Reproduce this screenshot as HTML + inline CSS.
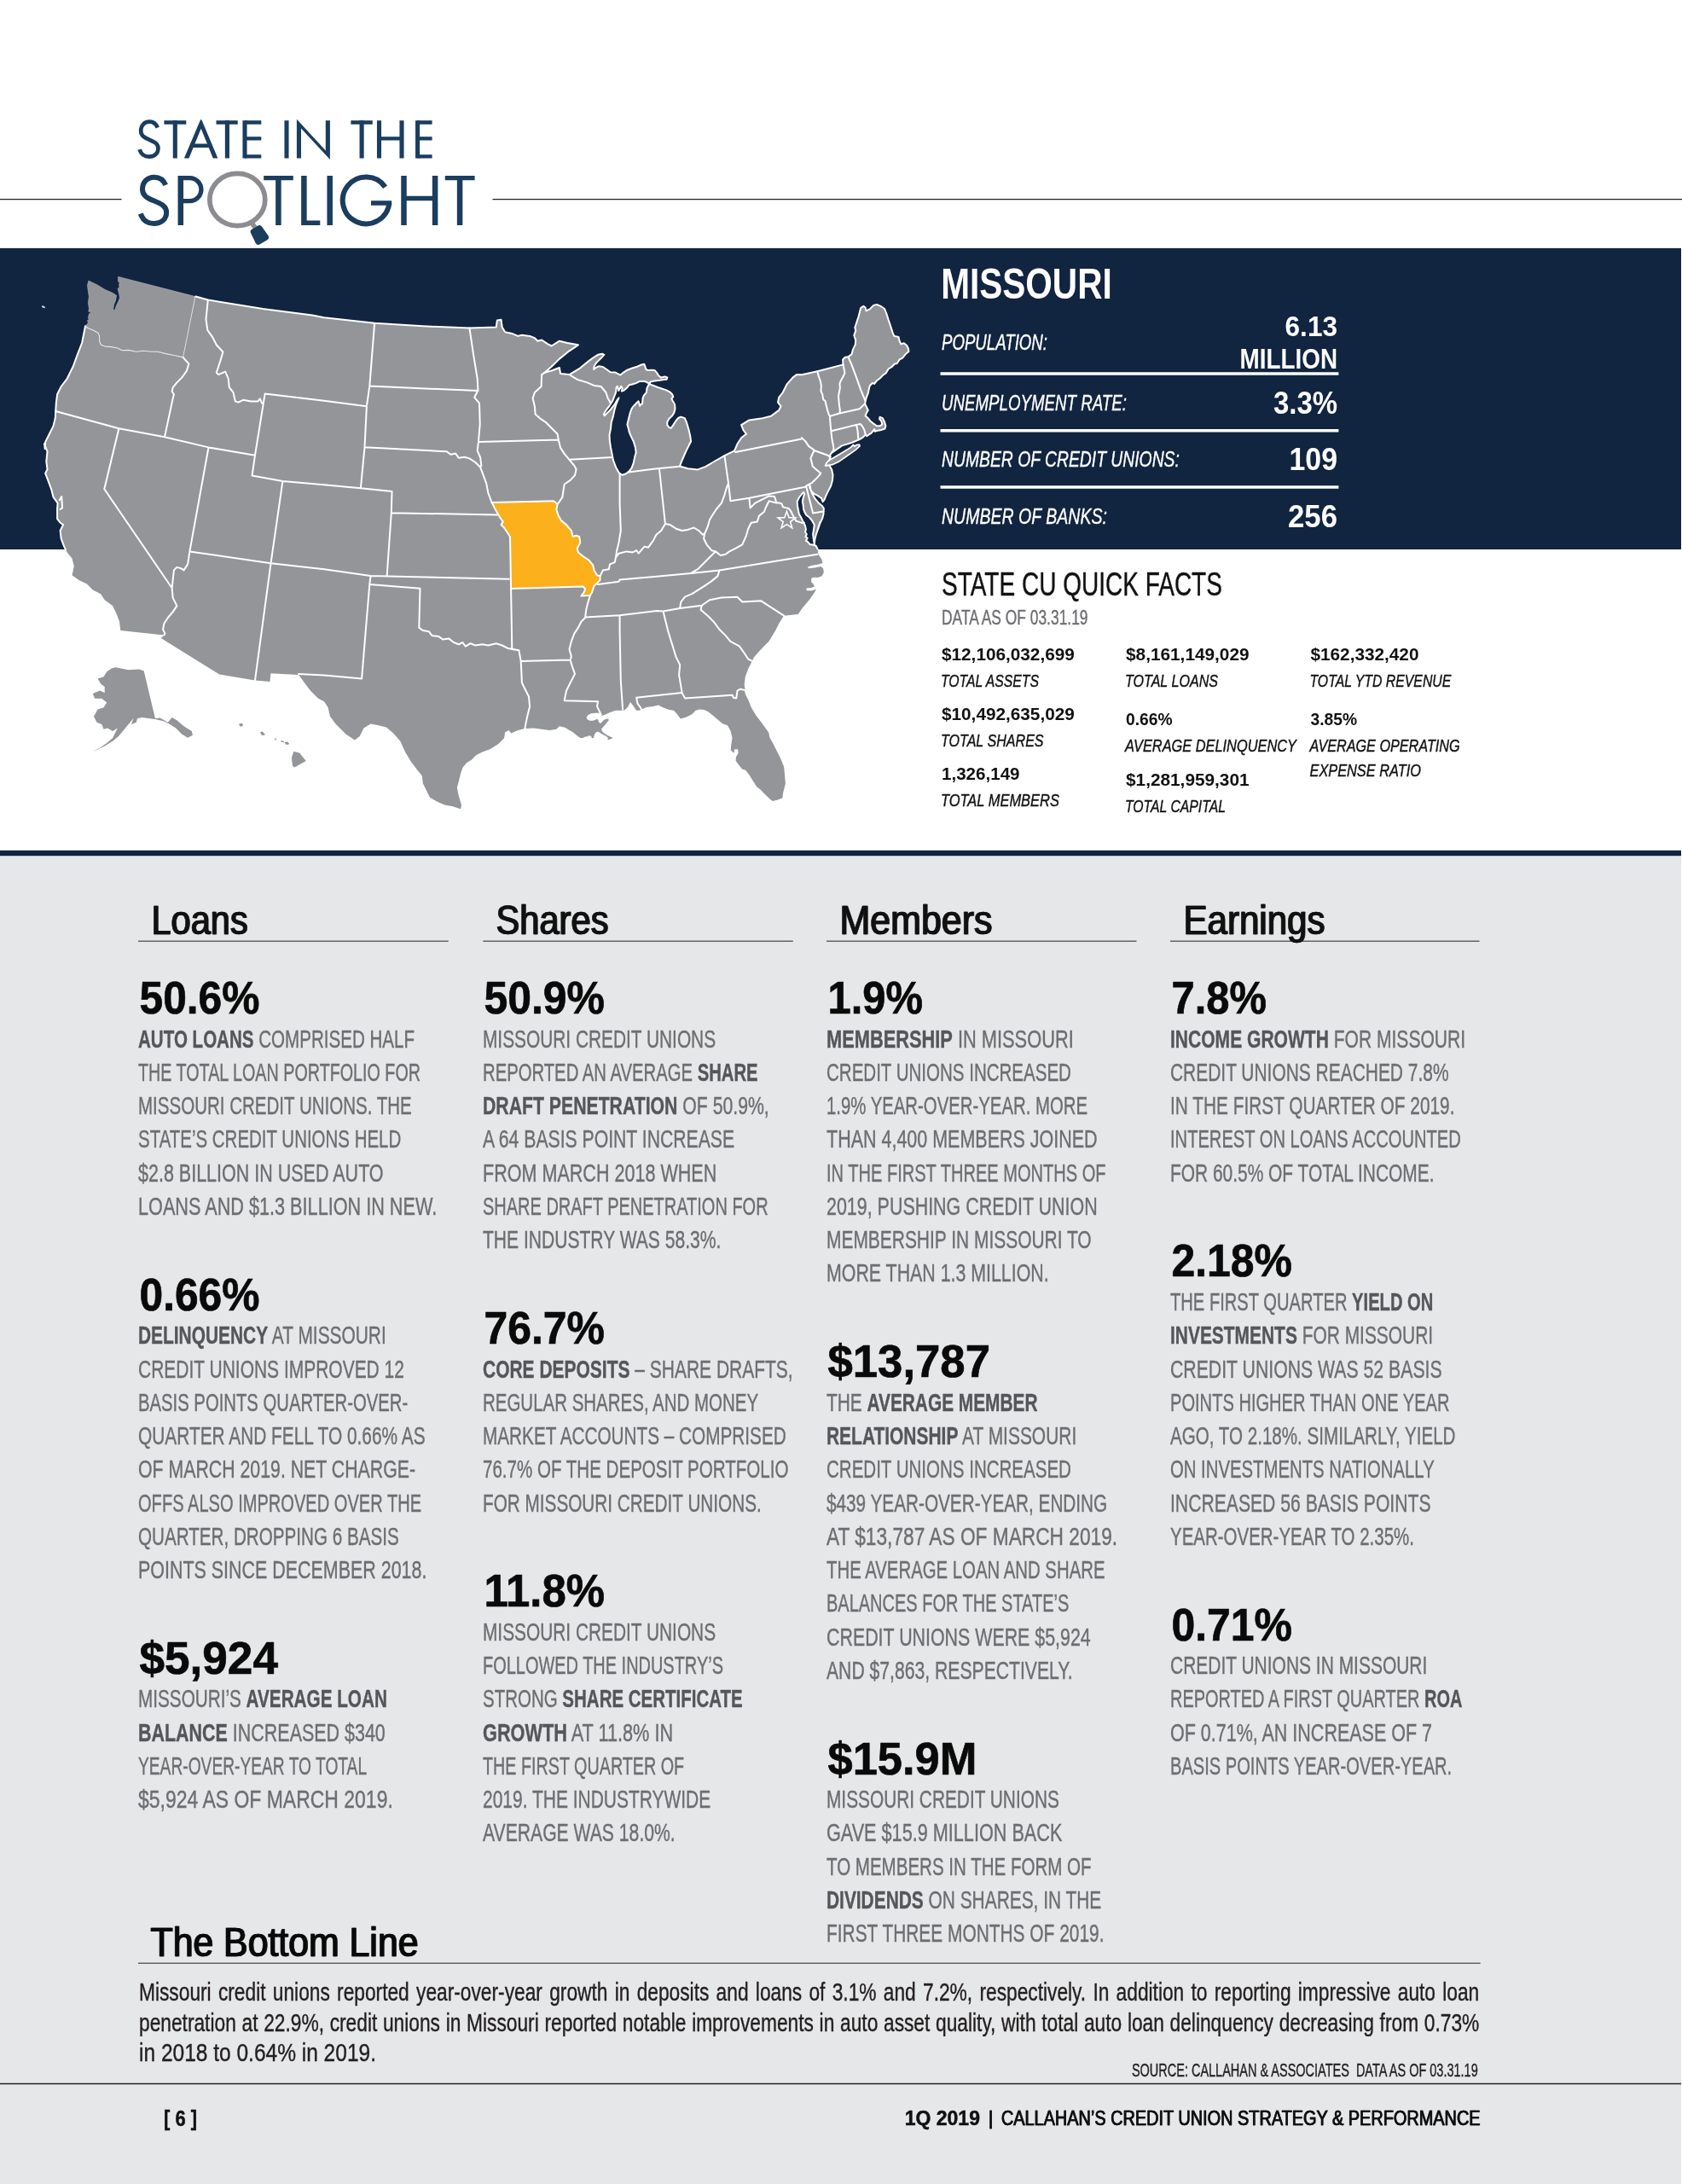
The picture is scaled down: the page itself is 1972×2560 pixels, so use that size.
<!DOCTYPE html>
<html><head><meta charset="utf-8"><title>State in the Spotlight - Missouri</title>
<style>
html,body{margin:0;padding:0;background:#fff;}
body{width:1972px;height:2560px;overflow:hidden;position:relative;font-family:"Liberation Sans",sans-serif;}
svg{position:absolute;left:0;top:0;display:block;}
text{font-family:"Liberation Sans",sans-serif;white-space:pre;}
</style></head><body>
<svg width="1972" height="2560" viewBox="0 0 1972 2560">
<rect x="0" y="0" width="1972" height="2560" fill="#fff"/>
<rect x="0" y="290.9" width="1971" height="353.1" fill="#112440"/>
<rect x="0" y="1000" width="1971" height="1560" fill="#e6e7e8"/>
<rect x="0" y="996.8" width="1971" height="6.4" fill="#112440"/>
<g id="title">
<path d="M215.9 185.6L235.1 140.15L236.29999999999998 140.15L255.4 185.6H249.8L235.7 150.85L221.5 185.6Z" fill="#1b3d5e"/>
<path d="M347.9 185.6V139.85L381.8 176.4V141.35H386.9V187.1L353.0 150.54999999999998V185.6Z" fill="#1b3d5e"/>
<path d="M192.4 143.54999999999998H218.3 M223.3 170.7H248.2 M253.5 143.54999999999998H278.7 M287.0 143.54999999999998H306.3M287.0 162.4H306.3M287.0 183.4H306.3 M411.4 143.54999999999998H436.8 M444.5 162.4H471.0 M489.6 143.54999999999998H506.6M489.6 162.4H506.6M489.6 183.4H506.6" fill="none" stroke="#1b3d5e" stroke-width="4.4" stroke-linejoin="miter" stroke-miterlimit="10"/>
<path d="M184.78 149.67 C182.78 144.75 179.21 142.70 175.20 142.70 C169.18 142.70 165.16 147.21 165.16 153.36 C165.16 159.10 169.18 161.15 174.75 163.61 C181.44 166.48 185.45 168.53 185.45 173.86 C185.45 180.01 180.99 183.70 174.75 183.70 C169.62 183.70 165.38 180.83 163.60 175.09" fill="none" stroke="#1b3d5e" stroke-width="4.7" stroke-linejoin="miter" stroke-miterlimit="10"/>
<path d="M205.3 141.35V185.6 M266.4 141.35V185.6 M287.0 141.35V185.6 M336.0 141.35V185.6 M424.1 141.35V185.6 M444.5 141.35V185.6M471.0 141.35V185.6 M489.6 141.35V185.6" fill="none" stroke="#1b3d5e" stroke-width="5.1"/>
<path d="M211.8 208.70000000000002H222.4A13.50 13.50 0 0 1 222.4 235.7H211.8 M309.2 208.70000000000002H343.8 M356.4 261.25H375.3 M435 238H459.12 M473.5 232.5H510.1 M521.8 208.70000000000002H556.6" fill="none" stroke="#1b3d5e" stroke-width="5.3" stroke-linejoin="miter" stroke-miterlimit="10"/>
<path d="M194.20 216.88 C191.42 210.37 186.48 207.65 180.92 207.65 C172.57 207.65 167.01 213.62 167.01 221.77 C167.01 229.37 172.57 232.09 180.30 235.34 C189.57 239.14 195.13 241.86 195.13 248.92 C195.13 257.06 188.95 261.95 180.30 261.95 C173.19 261.95 167.32 258.15 164.85 250.55 M451.64 219.18A27.4 27.4 0 1 0 456.42 238" fill="none" stroke="#1b3d5e" stroke-width="6.0" stroke-linejoin="miter" stroke-miterlimit="10"/>
<path d="M211.8 206.05V263.9 M326.4 206.05V263.9 M356.4 206.05V263.9 M386.7 206.05V263.9 M473.5 206.05V263.9M510.1 206.05V263.9 M539.1 206.05V263.9" fill="none" stroke="#1b3d5e" stroke-width="6.5"/>
<ellipse cx="278.3" cy="234" rx="32.45" ry="30.55" fill="none" stroke="#8c8d90" stroke-width="5.7"/>
<path d="M294.5 260.5L299 266.5" stroke="#8c8d90" stroke-width="5.5" fill="none"/>
<g transform="translate(303.9 275.2) rotate(-31)"><path d="M-7.4 -6.5Q-7.4 -10 -3.5 -10H3.5Q7.4 -10 7.6 -6.5L8.6 6Q8.8 10 4.5 10H-4.5Q-8.8 10 -8.6 6Z" fill="#1b3d5e"/></g>
<path d="M0 233.6H142.5M577.5 233.6H1972" stroke="#231f20" stroke-width="1.4" fill="none"/>
</g>
<g id="map">
<g stroke-linejoin="round" stroke-linecap="round">
<path d="M229.4 347.5 L243.8 351.5 L308.2 362.1 L366.2 369.6 L380 372.3 L439.1 378.8 L495.9 382.3 L550.4 384.6 L581.7 383.5 L582.9 375.4 L587.5 374.7 L588.7 383.5 L592.2 389.3 L600.3 390.9 L607.2 393.9 L611.9 392.7 L621.1 393.9 L626.9 396.2 L630.4 399.7 L635.1 398.5 L642 403.2 L646.6 405.5 L655.9 399.7 L665.2 402 L677.9 404.3 L667.5 411.3 L655.9 420.6 L646.6 429.8 L638.5 436.8 L646.6 434.5 L655.9 431 L657.1 438 L667.5 439.1 L679.1 432.2 L690 423.4 L695.9 419 L701 415.8 L706.1 414.7 L708.3 415.8 L704.7 419.8 L699.5 424.9 L696.6 429.3 L696.2 433 L698.8 430.8 L701.7 429.3 L706.8 430 L711.2 433 L715.6 436.3 L721.5 436.6 L727.4 439.6 L731 436.6 L735.4 433.7 L741.3 431.5 L747.1 429.7 L752.3 427.5 L755.2 426.7 L756.3 429.3 L757.4 433 L760.3 434.1 L764 433.7 L767.7 434.1 L769.9 436.6 L772.1 440.3 L775 442.5 L779.4 441.4 L782.3 442.5 L781.6 444.7 L777.9 445.1 L773.5 445.8 L769.1 446.2 L764.7 446.9 L762.2 448 L761.8 450.5 L766.2 452 L770.6 453.8 L776.4 455.7 L780.8 457.1 L785.2 459.3 L788.2 462.3 L789.3 465.2 L787.4 467.4 L788.9 470.3 L791.1 474 L791.5 479.1 L790.4 483.5 L788.2 487.2 L784.5 490.8 L782.3 494.5 L782.3 498.2 L784.5 501.1 L786.7 501.8 L788.9 498.9 L792.6 493 L795.5 489.7 L798.4 488.6 L802.8 490.1 L805 495.2 L807.2 502.6 L809 509.9 L810.1 517.2 L807.2 523.1 L804.3 528.9 L801.4 535.5 L799.2 540.7 L797 546.5 L806.5 549.3 L818.1 550.4 L827.4 546.9 L839 540 L849.4 534.2 L861 528.4 L864.5 520.3 L869.1 513.3 L874.9 508.7 L871.4 504 L869.1 498.2 L878.4 492.4 L892.3 490.6 L903.9 487.8 L913.2 480.9 L915.5 476.2 L912 471.6 L913.2 465.8 L917.8 460 L922.4 450.7 L929.4 442.6 L934 439.1 L940 439.3 L958.3 435.2 L988.5 427.4 L988.1 421.5 L990.8 418.7 L994.5 418.3 L998.6 415.1 L1000 409.6 L1002.7 404.1 L1003.2 398.6 L1001.3 393.1 L1003.2 387.6 L1002.3 384 L1004.1 378.5 L1006.8 370.2 L1009.1 361.1 L1012.3 358.8 L1014.6 360.6 L1015.5 364.3 L1019.7 362.4 L1024.2 357.9 L1027.9 356.9 L1032.5 358.8 L1037.1 362 L1039.3 367.5 L1041.6 374.8 L1044.4 383 L1046.7 390.4 L1048.5 394 L1053.5 394.9 L1054.5 399.5 L1056.3 403.2 L1059.9 402.3 L1063.2 405 L1065 408.7 L1065.4 411.9 L1061.8 415.1 L1058.1 419.7 L1054.5 421.5 L1051.7 426.1 L1049 426.5 L1045.3 430.2 L1041.6 432.5 L1038.9 437.1 L1035.2 439.8 L1031.6 443.5 L1027.9 446.2 L1025.2 449.9 L1022.9 449 L1019.7 452.2 L1018.7 456.3 L1017.8 460.9 L1016 465.4 L1014.6 470 L1014.2 473.7 L1016 477.3 L1017.8 481 L1016 483.8 L1014.6 487.4 L1017.8 490.2 L1020.6 493.8 L1024.2 496.6 L1027.9 499.3 L1031.6 499.3 L1034.3 497.5 L1033.4 493.8 L1031.1 491.1 L1031.6 488.8 L1034.8 490.2 L1037.1 494.7 L1038.4 499.3 L1037.5 502.5 L1033.4 503.9 L1028.8 504.8 L1025.6 505.7 L1025.2 503 L1023.8 504.8 L1021.5 507.6 L1018.3 509.8 L1016 511.2 L1014.6 509.4 L1012.3 512.1 L1009.6 514 L1005.9 515.8 L999.5 518.5 L993.1 520.6 L987.1 522.4 L982.1 525.9 L977.5 529.1 L974.7 530.9 L973.1 533.7 L973.7 535.9 L973.3 535.6 L972.3 539.2 L969.6 542.9 L968.2 545.6 L972.3 545.6 L975.1 550.2 L976.5 556.6 L976 563 L974.2 569.5 L971.4 574.9 L968.7 580.4 L966.4 585.9 L964.6 588.2 L963.2 584.1 L958.6 580.9 L954 578.6 L950.8 574.9 L949.2 571.3 L949.9 570.2 L950.5 574 L952.2 578.6 L955.3 584.1 L959.7 589.4 L963.8 592.9 L965.9 596 L965.5 600.6 L965.5 602.4 L964.1 607.9 L961.4 613.4 L959.5 618.9 L957.2 625.3 L955.4 631.7 L954.8 637.7 L954.5 636.3 L953.8 631.7 L953.1 626.2 L954 620.7 L954.8 615.2 L952 610.2 L949 606.5 L945.3 603.8 L943.5 600.6 L942.1 596.9 L941.7 592.3 L940.9 587.8 L941.8 583.2 L943.2 578.6 L941.9 577 L939.8 579.5 L936.9 583.2 L934.6 587.8 L935 593.3 L935.9 597.8 L936.8 602.4 L939.4 607 L941.7 611.6 L944 616.2 L944.9 620.7 L944 623.5 L945.8 626.2 L944.4 629 L946.7 630.8 L944.9 633.6 L947.6 635.6 L949.5 638.1 L954.9 639 L956.8 640 L958.6 643.6 L959.5 650 L963.2 655.5 L964.6 660.1 L959.5 661.5 L951.3 662.9 L946.7 664.7 L948.1 666.3 L954.9 665.6 L962.3 664 L965.2 666.5 L965.8 671.1 L963.6 675.2 L958.6 677.1 L954 676.8 L951.3 677.7 L951.1 682.1 L953.6 684.8 L954.9 687.6 L951.3 689 L945.3 689.4 L945.8 692.2 L951.3 692.6 L957.2 690.5 L954 695.8 L949.5 702.2 L944.9 707.7 L940.3 713.2 L935.7 720 L919 721.7 L913.2 731 L908.5 740.3 L901.6 751.6 L892.3 760.9 L884.2 770.1 L881.9 774.8 L877.2 784.1 L873.8 793.3 L872.6 802.6 L873.8 809.1 L872.8 807.8 L873.7 813.2 L877.2 820.3 L880.8 829.2 L886.1 838.2 L891.5 845.3 L896.8 852.4 L901.3 858.7 L902.2 864 L906.6 872 L911.1 881 L915.6 889.9 L919.1 898.8 L920 907.7 L920.9 918.4 L918.2 929.1 L917.3 935.4 L911.1 937.7 L905.8 938.9 L903.1 937.1 L896.8 930.9 L891.5 925.6 L887 922 L882.6 914.9 L878.1 907.7 L873.7 902.4 L870.1 901.5 L866.5 897 L862.6 891.7 L862.9 887.2 L865.6 882.7 L865.1 878.3 L861.2 878.3 L860.3 882.7 L856.7 879.2 L857.2 873.8 L858.5 864.9 L856.7 856.9 L853.1 850.6 L846.9 848 L841.5 843.5 L836.2 839 L830.8 834.6 L825.5 831.9 L820.1 831.4 L815.7 832.8 L811.2 837.3 L804.1 840.8 L797.8 842.6 L793.4 836.4 L789.8 832.8 L784.5 831.9 L777.3 829.2 L772 826.6 L764.9 828.3 L757.7 828.9 L751.5 831.9 L748.8 832.8 L746.1 832.8 L742.6 827.5 L739 823 L736.3 828.3 L732.7 831.9 L731 832.8 L731 832.8 L721.8 832.8 L714.7 835.2 L709.9 837.6 L705.7 839 L702.8 835.7 L697.1 835.7 L693.3 836.2 L689.5 838.1 L687.6 840.9 L688.5 843.3 L691.4 844.7 L695.2 844.7 L698.1 843.8 L700 842.8 L701.4 843.8 L701.9 846.2 L703.8 848.1 L705.7 846.6 L707.6 844.3 L710.4 842.8 L713.3 842.4 L713.7 844.3 L711.8 846.6 L709.5 849.5 L707.1 852.3 L705.2 854.2 L705.7 857.1 L708.5 859.5 L712.3 861.9 L716.1 863.8 L718.5 864.7 L717.1 865.7 L713.7 867.1 L712.3 866.6 L712.8 864.7 L710.4 862.8 L706.6 860.9 L702.8 858.5 L700.4 857.6 L698.1 859 L696.6 861.9 L696.1 864.7 L694.2 865.2 L692.8 862.8 L690.4 862.3 L688.5 863.3 L685.7 863.8 L682.8 865.2 L680 864.7 L677.1 862.8 L674.3 860.4 L671.4 858.1 L667.6 856.1 L664.8 854.2 L662.4 852.8 L660 852.3 L655.9 851.3 L652.4 854.8 L644.3 855.9 L635.1 854.8 L625.8 853.6 L615.3 854.1 L607.2 855.9 L599.1 859.4 L596.8 855.9 L592.2 858.3 L591 865.2 L584 872.2 L574.8 878 L565.5 881.4 L558.5 884.9 L552.7 890.7 L546.9 894.2 L542.3 900 L540 906.9 L537.7 916.2 L535.8 923.2 L537.7 932.4 L541.1 944 L540 948.2 L530.7 945.2 L521.4 943.6 L512.2 939.4 L504 934.8 L500.6 927.8 L495.9 918.5 L494.8 909.3 L489 902.3 L482 893 L475.1 881.4 L469.3 868.7 L461.2 859.4 L453 852.5 L442.6 850.1 L434.5 848.5 L426.4 853.6 L421.7 862.9 L415.9 867.5 L405.5 860.6 L393.9 849 L387 839.7 L384.6 829.3 L380 822.3 L373.2 818.8 L363.9 809.6 L356.9 800.3 L351.1 792.2 L349.5 791 L317.5 789.2 L316.4 799.1 L299 797.5 L257.2 790.5 L188.8 748.1 L192.3 744.4 L141.3 739.1 L140.1 728.7 L136.7 719.4 L132 710.1 L122.7 703.2 L118.1 696.2 L108.8 691.6 L101.9 684.6 L92.6 680 L84.5 674.2 L86.8 663.8 L84.5 654.5 L78.7 647.5 L75.2 640.6 L71.7 631.3 L70.6 622 L74.1 615.1 L70.6 612.7 L67.1 608.1 L67.1 596.5 L67.6 589.6 L62.5 582.6 L60.1 573.3 L56.7 564.1 L53.2 554.8 L55.5 550.1 L54.3 540.9 L55.5 529.3 L52 520 L52.7 526.1 L53.2 518 L57.8 508.7 L62.5 499.4 L64.8 490.1 L65.2 482 L65.9 471.6 L67.1 462.3 L71.7 453 L78.7 443.8 L85.6 429.8 L90.7 415.9 L96.1 402 L100 382.3 L103.3 378.5 L102.4 375.6 L104.3 374.7 L103.3 372.8 L104.3 368 L107.1 366.1 L103.8 365.2 L104.3 361.4 L103.3 354.7 L104.3 348 L103.3 341.4 L102.4 334.7 L103.8 329 L113.8 333.8 L123.3 339.5 L131.9 343.3 L135.7 345.7 L136.6 346.1 L135.7 351.9 L133.8 356.6 L132.8 361.4 L133.3 364.2 L134.7 362.8 L136.6 357.6 L139 352.8 L140.4 349 L139.5 344.2 L138 338.5 L139.9 336.6 L139.5 332.8 L140.4 331.4 L138.5 330 L138.5 324.3Z" fill="#939598"/>
<path d="M100 382.3 L103.3 378.5 L102.4 375.6 L104.3 374.7 L103.3 372.8 L104.3 368 L107.1 366.1 L103.8 365.2 L104.3 361.4 L103.3 354.7 L104.3 348 L103.3 341.4 L102.4 334.7 L103.8 329 L113.8 333.8 L123.3 339.5 L131.9 343.3 L135.7 345.7 L136.6 346.1 L135.7 351.9 L133.8 356.6 L132.8 361.4 L133.3 364.2 L134.7 362.8 L136.6 357.6 L139 352.8 L140.4 349 L139.5 344.2 L138 338.5 L139.9 336.6 L139.5 332.8 L140.4 331.4 L138.5 330 L138.5 324.3 L228.9 347.6" fill="none" stroke="#b9babc" stroke-width="0.5"/>
<clipPath id="navyclip"><rect x="0" y="280" width="1972" height="364.5"/></clipPath>
<path d="M229.4 347.5 L243.8 351.5 L308.2 362.1 L366.2 369.6 L380 372.3 L439.1 378.8 L495.9 382.3 L550.4 384.6 L581.7 383.5 L582.9 375.4 L587.5 374.7 L588.7 383.5 L592.2 389.3 L600.3 390.9 L607.2 393.9 L611.9 392.7 L621.1 393.9 L626.9 396.2 L630.4 399.7 L635.1 398.5 L642 403.2 L646.6 405.5 L655.9 399.7 L665.2 402 L677.9 404.3 L667.5 411.3 L655.9 420.6 L646.6 429.8 L638.5 436.8 L646.6 434.5 L655.9 431 L657.1 438 L667.5 439.1 L679.1 432.2 L690 423.4 L695.9 419 L701 415.8 L706.1 414.7 L708.3 415.8 L704.7 419.8 L699.5 424.9 L696.6 429.3 L696.2 433 L698.8 430.8 L701.7 429.3 L706.8 430 L711.2 433 L715.6 436.3 L721.5 436.6 L727.4 439.6 L731 436.6 L735.4 433.7 L741.3 431.5 L747.1 429.7 L752.3 427.5 L755.2 426.7 L756.3 429.3 L757.4 433 L760.3 434.1 L764 433.7 L767.7 434.1 L769.9 436.6 L772.1 440.3 L775 442.5 L779.4 441.4 L782.3 442.5 L781.6 444.7 L777.9 445.1 L773.5 445.8 L769.1 446.2 L764.7 446.9 L762.2 448 L761.8 450.5 L766.2 452 L770.6 453.8 L776.4 455.7 L780.8 457.1 L785.2 459.3 L788.2 462.3 L789.3 465.2 L787.4 467.4 L788.9 470.3 L791.1 474 L791.5 479.1 L790.4 483.5 L788.2 487.2 L784.5 490.8 L782.3 494.5 L782.3 498.2 L784.5 501.1 L786.7 501.8 L788.9 498.9 L792.6 493 L795.5 489.7 L798.4 488.6 L802.8 490.1 L805 495.2 L807.2 502.6 L809 509.9 L810.1 517.2 L807.2 523.1 L804.3 528.9 L801.4 535.5 L799.2 540.7 L797 546.5 L806.5 549.3 L818.1 550.4 L827.4 546.9 L839 540 L849.4 534.2 L861 528.4 L864.5 520.3 L869.1 513.3 L874.9 508.7 L871.4 504 L869.1 498.2 L878.4 492.4 L892.3 490.6 L903.9 487.8 L913.2 480.9 L915.5 476.2 L912 471.6 L913.2 465.8 L917.8 460 L922.4 450.7 L929.4 442.6 L934 439.1 L940 439.3 L958.3 435.2 L988.5 427.4 L988.1 421.5 L990.8 418.7 L994.5 418.3 L998.6 415.1 L1000 409.6 L1002.7 404.1 L1003.2 398.6 L1001.3 393.1 L1003.2 387.6 L1002.3 384 L1004.1 378.5 L1006.8 370.2 L1009.1 361.1 L1012.3 358.8 L1014.6 360.6 L1015.5 364.3 L1019.7 362.4 L1024.2 357.9 L1027.9 356.9 L1032.5 358.8 L1037.1 362 L1039.3 367.5 L1041.6 374.8 L1044.4 383 L1046.7 390.4 L1048.5 394 L1053.5 394.9 L1054.5 399.5 L1056.3 403.2 L1059.9 402.3 L1063.2 405 L1065 408.7 L1065.4 411.9 L1061.8 415.1 L1058.1 419.7 L1054.5 421.5 L1051.7 426.1 L1049 426.5 L1045.3 430.2 L1041.6 432.5 L1038.9 437.1 L1035.2 439.8 L1031.6 443.5 L1027.9 446.2 L1025.2 449.9 L1022.9 449 L1019.7 452.2 L1018.7 456.3 L1017.8 460.9 L1016 465.4 L1014.6 470 L1014.2 473.7 L1016 477.3 L1017.8 481 L1016 483.8 L1014.6 487.4 L1017.8 490.2 L1020.6 493.8 L1024.2 496.6 L1027.9 499.3 L1031.6 499.3 L1034.3 497.5 L1033.4 493.8 L1031.1 491.1 L1031.6 488.8 L1034.8 490.2 L1037.1 494.7 L1038.4 499.3 L1037.5 502.5 L1033.4 503.9 L1028.8 504.8 L1025.6 505.7 L1025.2 503 L1023.8 504.8 L1021.5 507.6 L1018.3 509.8 L1016 511.2 L1014.6 509.4 L1012.3 512.1 L1009.6 514 L1005.9 515.8 L999.5 518.5 L993.1 520.6 L987.1 522.4 L982.1 525.9 L977.5 529.1 L974.7 530.9 L973.1 533.7 L973.7 535.9 L973.3 535.6 L972.3 539.2 L969.6 542.9 L968.2 545.6 L972.3 545.6 L975.1 550.2 L976.5 556.6 L976 563 L974.2 569.5 L971.4 574.9 L968.7 580.4 L966.4 585.9 L964.6 588.2 L963.2 584.1 L958.6 580.9 L954 578.6 L950.8 574.9 L949.2 571.3 L949.9 570.2 L950.5 574 L952.2 578.6 L955.3 584.1 L959.7 589.4 L963.8 592.9 L965.9 596 L965.5 600.6 L965.5 602.4 L964.1 607.9 L961.4 613.4 L959.5 618.9 L957.2 625.3 L955.4 631.7 L954.8 637.7 L954.5 636.3 L953.8 631.7 L953.1 626.2 L954 620.7 L954.8 615.2 L952 610.2 L949 606.5 L945.3 603.8 L943.5 600.6 L942.1 596.9 L941.7 592.3 L940.9 587.8 L941.8 583.2 L943.2 578.6 L941.9 577 L939.8 579.5 L936.9 583.2 L934.6 587.8 L935 593.3 L935.9 597.8 L936.8 602.4 L939.4 607 L941.7 611.6 L944 616.2 L944.9 620.7 L944 623.5 L945.8 626.2 L944.4 629 L946.7 630.8 L944.9 633.6 L947.6 635.6 L949.5 638.1 L954.9 639 L956.8 640 L958.6 643.6 L959.5 650 L963.2 655.5 L964.6 660.1 L959.5 661.5 L951.3 662.9 L946.7 664.7 L948.1 666.3 L954.9 665.6 L962.3 664 L965.2 666.5 L965.8 671.1 L963.6 675.2 L958.6 677.1 L954 676.8 L951.3 677.7 L951.1 682.1 L953.6 684.8 L954.9 687.6 L951.3 689 L945.3 689.4 L945.8 692.2 L951.3 692.6 L957.2 690.5 L954 695.8 L949.5 702.2 L944.9 707.7 L940.3 713.2 L935.7 720 L919 721.7 L913.2 731 L908.5 740.3 L901.6 751.6 L892.3 760.9 L884.2 770.1 L881.9 774.8 L877.2 784.1 L873.8 793.3 L872.6 802.6 L873.8 809.1 L872.8 807.8 L873.7 813.2 L877.2 820.3 L880.8 829.2 L886.1 838.2 L891.5 845.3 L896.8 852.4 L901.3 858.7 L902.2 864 L906.6 872 L911.1 881 L915.6 889.9 L919.1 898.8 L920 907.7 L920.9 918.4 L918.2 929.1 L917.3 935.4 L911.1 937.7 L905.8 938.9 L903.1 937.1 L896.8 930.9 L891.5 925.6 L887 922 L882.6 914.9 L878.1 907.7 L873.7 902.4 L870.1 901.5 L866.5 897 L862.6 891.7 L862.9 887.2 L865.6 882.7 L865.1 878.3 L861.2 878.3 L860.3 882.7 L856.7 879.2 L857.2 873.8 L858.5 864.9 L856.7 856.9 L853.1 850.6 L846.9 848 L841.5 843.5 L836.2 839 L830.8 834.6 L825.5 831.9 L820.1 831.4 L815.7 832.8 L811.2 837.3 L804.1 840.8 L797.8 842.6 L793.4 836.4 L789.8 832.8 L784.5 831.9 L777.3 829.2 L772 826.6 L764.9 828.3 L757.7 828.9 L751.5 831.9 L748.8 832.8 L746.1 832.8 L742.6 827.5 L739 823 L736.3 828.3 L732.7 831.9 L731 832.8 L731 832.8 L721.8 832.8 L714.7 835.2 L709.9 837.6 L705.7 839 L702.8 835.7 L697.1 835.7 L693.3 836.2 L689.5 838.1 L687.6 840.9 L688.5 843.3 L691.4 844.7 L695.2 844.7 L698.1 843.8 L700 842.8 L701.4 843.8 L701.9 846.2 L703.8 848.1 L705.7 846.6 L707.6 844.3 L710.4 842.8 L713.3 842.4 L713.7 844.3 L711.8 846.6 L709.5 849.5 L707.1 852.3 L705.2 854.2 L705.7 857.1 L708.5 859.5 L712.3 861.9 L716.1 863.8 L718.5 864.7 L717.1 865.7 L713.7 867.1 L712.3 866.6 L712.8 864.7 L710.4 862.8 L706.6 860.9 L702.8 858.5 L700.4 857.6 L698.1 859 L696.6 861.9 L696.1 864.7 L694.2 865.2 L692.8 862.8 L690.4 862.3 L688.5 863.3 L685.7 863.8 L682.8 865.2 L680 864.7 L677.1 862.8 L674.3 860.4 L671.4 858.1 L667.6 856.1 L664.8 854.2 L662.4 852.8 L660 852.3 L655.9 851.3 L652.4 854.8 L644.3 855.9 L635.1 854.8 L625.8 853.6 L615.3 854.1 L607.2 855.9 L599.1 859.4 L596.8 855.9 L592.2 858.3 L591 865.2 L584 872.2 L574.8 878 L565.5 881.4 L558.5 884.9 L552.7 890.7 L546.9 894.2 L542.3 900 L540 906.9 L537.7 916.2 L535.8 923.2 L537.7 932.4 L541.1 944 L540 948.2 L530.7 945.2 L521.4 943.6 L512.2 939.4 L504 934.8 L500.6 927.8 L495.9 918.5 L494.8 909.3 L489 902.3 L482 893 L475.1 881.4 L469.3 868.7 L461.2 859.4 L453 852.5 L442.6 850.1 L434.5 848.5 L426.4 853.6 L421.7 862.9 L415.9 867.5 L405.5 860.6 L393.9 849 L387 839.7 L384.6 829.3 L380 822.3 L373.2 818.8 L363.9 809.6 L356.9 800.3 L351.1 792.2 L349.5 791 L317.5 789.2 L316.4 799.1 L299 797.5 L257.2 790.5 L188.8 748.1 L192.3 744.4 L141.3 739.1 L140.1 728.7 L136.7 719.4 L132 710.1 L122.7 703.2 L118.1 696.2 L108.8 691.6 L101.9 684.6 L92.6 680 L84.5 674.2 L86.8 663.8 L84.5 654.5 L78.7 647.5 L75.2 640.6 L71.7 631.3 L70.6 622 L74.1 615.1 L70.6 612.7 L67.1 608.1 L67.1 596.5 L67.6 589.6 L62.5 582.6 L60.1 573.3 L56.7 564.1 L53.2 554.8 L55.5 550.1 L54.3 540.9 L55.5 529.3 L52 520 L52.7 526.1 L53.2 518 L57.8 508.7 L62.5 499.4 L64.8 490.1 L65.2 482 L65.9 471.6 L67.1 462.3 L71.7 453 L78.7 443.8 L85.6 429.8 L90.7 415.9 L96.1 402 L100 382.3" fill="none" stroke="#fff" stroke-width="2.0" clip-path="url(#navyclip)"/>
<path d="M975.7 537.6 L983.8 532.8 L993.3 527.1 L997.6 524.3 L1000.4 521.4 L1001.9 523.3 L1004 521.5 L1007.6 521.2 L1008 522.8 L1002.8 527.6 L993.3 534.2 L983.8 540.9 L975.7 544.7 L967.6 545.9 L969.5 541.9 L974.3 538Z" fill="#939598" stroke="#fff" stroke-width="1.7"/>
<path d="M761.1 449.8 L758.5 454.9 L757.8 460.1 L754.8 463.7 L753.6 466.7 L753 473.3 L751.4 474 L750.2 475.8 L748.6 470.3 L746.4 472.2 L742.7 476.2 L740.5 479.1 L738.7 484.2 L736.9 491.6 L735.4 497.4 L736.9 502.6 L737.6 506.2 L739.8 511.4 L742.7 517.2 L744.9 524.5 L745.7 530.4 L744.2 535.5 L742.7 542.9 L740.5 548.7 L737.6 552.4 L734 555.3 L729.6 556.8 L725.9 554.6 L722.2 548 L718.9 539.2 L717.5 531.9 L716 524.5 L714.9 517.2 L714.5 509.9 L716 502.6 L716.7 495.2 L718.9 487.9 L720.4 480.6 L722.6 473.3 L725.5 466.3 L723.8 468.5 L720.9 473.6 L715.8 480.2 L711.4 484.6 L708.8 487.3 L707.8 485.6 L710.4 481.2 L714.8 475.3 L718.4 469.5 L720.6 463.6 L722.2 459.3 L722.6 454.2 L723.6 452.7 L724.6 454.6 L725.2 457.9 L726.6 455.7 L728.1 452.7 L729.6 454.9 L728.8 458.6 L731 457.9 L735.4 454.2 L737.6 451.3 L741.3 450.5 L745.7 449.1 L750.1 446.9 L755.9 446.9 L760.3 449.1Z" fill="#112440" stroke="#fff" stroke-width="2.0"/>
<path d="M214.6 418.9 L221.3 426.4 L219 434.5 L213.2 442.6 L207.4 448.4 L202.7 454.2 L201.6 458.8 L203.9 462.3 L202.7 466.9 L193 512.2 M65.2 482 L139.4 502.2 L193 512.2 L244.5 524.4 L299 533.7 M243.8 351.5 L241.5 374.2 L243.3 387 L249.1 395.1 L253.8 404.3 L261.4 412.5 L258.4 422.9 L256.1 429.8 L253.8 436.8 L256.1 439.1 L264.2 435.6 L267.7 443.8 L268.8 454.2 L273.5 460 L275.8 470.4 L279.3 471.6 L285.1 468.8 L294.3 470.4 L302.4 470.4 L304.8 467.4 L307.1 472.7 M310.6 461.6 L299 533.7 L295.5 557.6 M310.6 461.6 L380 469.7 L429.9 476.2 M295.5 557.6 L331.4 564.1 L380 568.2 L422.9 572.2 M439.1 378.8 L433.3 452.6 L429.9 476.2 L427.5 524.4 L422.9 572.2 M433.3 452.6 L560.4 458.1 M427.5 524.2 L523.8 529.3 L528.4 532.8 L534.2 531.6 L537.7 536.7 L544.6 535.8 L550.4 537.4 L557.4 542 L563.2 547.8 M550.4 384.6 L552.7 399.7 L555.1 415.9 L557.4 429.8 L559.7 443.8 L560.4 457.7 L556.2 465.8 L562 472.7 L562.7 497.1 L560.9 518 L559.7 528.4 L563.2 536.5 L564.3 545.8 L563.2 547.8 L566.7 557.1 L570.1 566.4 L572.4 578 L576.6 589.1 M560.9 518 L654.8 515.6 M638.5 436.8 L635.1 439.1 L634.6 453 L626.9 460 L624.6 466.9 L626.9 476.2 L627.6 485.5 L632.7 490.1 L639.7 494.8 L646.6 501.7 L653.6 508.7 L654.8 515.6 M654.8 515.6 L657.1 524.9 L661.7 531.9 L667.5 538.8 L673.3 545.8 L675.6 550.1 L674 557.1 L668.7 562.9 L661.7 567.5 L660.6 574.5 L659.4 582.6 L654.3 590.3 M667.5 538.8 L718.1 536 M667.5 439.1 L676.8 444.9 L688.4 448.4 L696.5 451.9 L704.6 453 L710.4 460 L712.7 466.9 L716.2 472.7 M726.6 554.8 L726.6 589.6 L727.8 622 L725.5 635.9 L723.2 645.2 L722 653.3 M737 553.4 L772.9 549 L797.2 546.7 M772.9 549 L779.9 613.9 M703.5 675.4 L706.9 668.4 L713.9 667.2 L715 661.4 L720.8 659.1 L722 653.3 L725.5 648.7 L734.8 646.4 L741.7 647.5 L746.3 645.2 L748.7 648.7 L755.5 640.6 L760.1 641.7 L765.9 633.6 L769.4 626.7 L775.2 622 L779.9 613.9 L785.6 615.1 L792.6 619.7 L799.6 622 L806.5 620.9 L813.5 618.5 L819.3 622 L823.9 626.7 L826.2 625.5 L829.7 617.4 L832 609.3 L835.5 603.5 L840.1 596.5 L845.9 589.6 L849.4 580.3 L851.7 572.2 L854 566.4 M849.4 533.9 L854 566.4 M854 566.4 L856.4 587.2 L878.4 583.8 L944 570.8 M861 528.4 L862.2 530 L939.8 514.5 M940 513.1 L944.6 517.6 L948.2 523.1 L953.7 526.8 L954.5 528.2 L952.2 532.8 L950.4 537.4 L951.7 542 L952.7 546.6 L956.8 550.2 L962.3 554.8 L958.6 559.4 L954.9 563 L952.2 565.8 L948.5 567.6 L945.8 569.5 L944 570.8 M954 527.8 L970.5 533.7 L973.3 535.6 M878.4 583.8 L879.6 595.4 L885.4 589.6 L892.3 586.1 L901.6 581.4 L908.1 582.1 L910.4 589.6 M910.4 589.6 L901.6 587.2 L898.1 594.2 L895.8 600 L890 604.6 L887.7 611.6 L880.7 612.7 L877.2 619.7 L874.9 627.8 L870.3 638.3 L862.2 642.9 L855.2 646.4 L850.6 649.8 L844.8 651 L839 646.4 L834.3 645.2 L828.5 638.3 L825.1 631.3 L826.2 625.5 M910.4 589.6 L914.2 589.6 L916.5 590.5 L917.9 594.2 L921.1 595.1 L924.7 596 L927 598.8 L930.2 605.2 L933.4 610.7 L936.6 611.6 L940.3 612.9 L942.9 612.7 M839 646.4 L832 653.3 L825.1 660.3 L818.1 667.2 L810 671.9 M701.1 685.1 L725.5 681.8 L726.6 679.5 L769.9 675.8 L810 671.9 L843.6 668.4 L958.4 649.8 M843.6 668.4 L841.3 675.4 L834.3 681.1 L827.4 685.8 L820.4 690.4 L811.2 696.2 L803 699.7 L798.4 705.5 L797.2 712.4 M686.1 723.6 L726.6 721.3 L769.9 715.9 L777.5 716.6 L797.2 712.9 L822.7 709.7 M822.7 709.7 L832 703.2 L845.9 700.4 L864.5 699.7 L870.3 705.5 L892.3 704.3 L919 721.7 M822.7 710.1 L821.6 714.8 L829.7 721.7 L836.7 728.7 L843.6 738 L850.6 744.9 L856.4 751.9 L866.8 757.4 L872.6 765.5 L877.2 772.5 L881.9 774.8 M777.5 716.6 L783.3 740 L792.6 770.1 L797.2 779.4 L796.1 791 L798.4 804.9 L799.6 811.9 M799.6 811.9 L803 818.4 L858.7 814.7 L859.8 817.7 L863.3 818.4 L864.5 809.6 L868 807.7 L873.8 809.1 M752 831.6 L750.9 829.3 L747.4 824.6 L746.2 817.7 L799.6 811.9 M726.6 721.3 L726.6 740 L727.8 798 L730.1 831.6 M691.9 698.1 L689.5 705.5 L687.2 714.8 L686.1 724 L681.4 728.7 L677.9 735.6 L673.3 742.6 L669.8 751.9 L667.5 761.1 L669.8 769.3 L668.7 773.9 L671 781.7 L674 789.9 L668.7 800.3 L664 809.6 L661.7 821.2 L701.1 822.3 L700 828.1 L703.5 835.1 L704.6 837.4 M610.7 775.1 L668.7 773.4 M599.1 690 L600.3 761.1 L608.4 762.3 L610.7 775.1 L610.7 774.8 L611.9 800.3 L615.3 807.2 L620 816.5 L621.1 828.1 L617.7 842 L615.3 854.1 M317.5 660.3 L380 667.2 L434.5 674.9 L596.8 678.8 M434.5 674.9 L433.3 685.1 L428.7 740 L424.1 795.6 M350 789.9 L380 791.5 L424.1 795.6 M433.3 685.1 L492.5 689.7 L491.3 735.6 L495.9 739.1 L502.9 740.3 L506.4 744.9 L514.5 746.1 L519.1 749.5 L526.1 748.4 L531.9 753 L537.7 755.3 L542.3 753 L545.8 757.7 L551.6 754.2 L557.4 756.5 L565.5 755.3 L572.4 756.5 L581.7 754.2 L588.7 756.5 L595.6 760 L601.4 761.1 L608.4 762.3 M458.8 601.2 L453.7 674 M422.9 572.2 L459.5 576.1 L458.8 601.2 M458.8 601.2 L583.1 603.5 M139.4 502.2 L122.3 573.3 L201.6 689.3 M222.4 646.4 L220.1 661.4 L215.5 668.4 L212 666.1 L207.4 664.9 L203.9 668.4 L201.6 689.3 L202.7 700.9 L207.4 710.1 L202.7 717.1 L196.9 724 L192.3 731 L191.1 738 L193.5 742.6 L192.3 744.4 M244.5 524.4 L222.4 646.4 M222.4 646.4 L317.5 660.3 M331.4 564.1 L317.5 660.3 M317.5 660.3 L299 797.5 M958.3 435.2 L959.7 440.7 L962 447.1 L962.9 452.6 L962.4 458.1 L964.3 462.7 L965.2 468.2 L967.5 470 L968.8 475.5 L970.2 481 L971.6 485.6 L973 487.9 M988.5 427.4 L989.4 431.6 L990.4 437.1 L988.5 441.6 L985.8 446.2 L984.4 449.9 L984.9 454.5 L984 459 L983 464.5 L983.5 470 L984 475.5 L984.9 481 L984.4 484.5 M994.5 418.3 L998.6 427.9 L1004.1 442.6 L1009.6 458.1 L1014.6 470 M973 487.9 L984.4 484.5 L1007.8 479.2 L1013.3 473.9 L1014.2 473.7 M973 487.9 L973.4 495.7 L974.3 504.8 L975.3 514 L977.1 523.1 L977.5 526.8 L975.2 530.5 M974.3 505.3 L985.8 502.5 L1004.1 497.9 L1008.7 497 M1004.1 497.9 L1005.5 504.8 L1005.9 510.3 L1006.4 515.3 M1008.7 497 L1011.4 500.2 L1013.3 503.9 L1014.6 508.5 M944 570.8 L945.3 569.5 L947.6 568.1 L950.1 569.9 M945.3 570.8 L953.1 601.5 L965.5 599.5 M69.9 586.1 L72.2 582.1 L73.1 595.4 L70.6 597" fill="none" stroke="#fff" stroke-width="2.0"/>
<path d="M100 382.3 L102.4 384.2 L109 387.1 L114.7 389.9 L116.6 393.7 L116.6 400.4 L118.5 404.2 L123.3 406.1 L130.9 406.6 L137.6 408 L143.3 410.8 L150.9 410.4 L159.4 412.3 L168 411.3 L178.5 412.3 L185.1 412.3 L194.6 414.6 L204.1 416.5 L214.6 418.9" fill="none" stroke="#e9e9ea" stroke-width="1.1"/>
<path d="M228.9 347.6 L214.6 418.9 M960.9 611.6 L958.6 618.9 L956.3 628.1 L955.2 635.8" fill="none" stroke="#f1f1f2" stroke-width="0.8"/>
<path d="M576.6 589.1 L649 587.2 L653.6 590.7 L652.4 597.7 L654.8 604.6 L658.2 610.4 L664 615.1 L669.8 622 L671.7 629 L675.6 627.8 L679.1 629 L680.3 635.9 L676.8 642.9 L677.9 647.5 L683.7 652.2 L690.7 656.8 L695.3 662.6 L696.5 668.4 L700 674.2 L703.5 675.4 L703.5 680 L700 683.5 L696.5 686.9 L694.2 693.9 L691.9 698.1 L681.4 698.5 L684.9 693.9 L686.1 690.4 L683.7 687.4 L599.1 690 L598 629 L593.3 622 L591 618.5 L587.5 615.1 L589.8 611.6 L586.4 607 L581.7 598.8Z" fill="#fbb01c" stroke="#fff" stroke-width="2.0"/>
<path d="M922.4 599.4 L925 606.6 L932.7 606.9 L926.6 611.6 L928.7 618.9 L922.4 614.6 L916.1 618.9 L918.2 611.6 L912.1 606.9 L919.8 606.6Z" fill="#939598" stroke="#fff" stroke-width="1.6" stroke-linejoin="miter"/>
<path d="M135.5 782.2 L150.6 785.2 L163.3 784.5 L168.7 786.4 L181.9 842 L187.7 841.6 L196.9 846.7 L201.6 840.9 L207.4 844.3 L215.5 851.3 L224.8 857.1 L225.9 861.7 L220.1 864.7 L213.2 860.6 L206.2 853.6 L199.3 849 L192.3 845.5 L183 843.2 L173.8 842 L166.8 840.9 L161 842 L159.8 846.7 L154 849 L156.4 842 L150.6 849 L144.8 855.9 L139 862.9 L132 868.7 L122.7 874.5 L113.5 879.1 L108.8 880.7 L117 876.8 L125.1 871 L132 865.2 L135.5 858.3 L137.8 853.6 L132 857.1 L126.2 853.6 L121.6 854.8 L119.3 849 L113.5 846.7 L110 839.7 L114.6 831.6 L121.6 829.3 L125.1 823.5 L119.3 818.8 L111.2 818.8 L108.8 813 L117 809.6 L122.7 811.9 L122.7 804.9 L118.1 801.4 L114.6 795.6 L121.6 793.3 L125.1 787.5 L130.9 783.6Z" fill="#939598"/>
<path d="M280 848.5 L283.9 847.8 L285.1 850.8 L281.6 851.8Z" fill="#939598"/>
<path d="M304.8 858.7 L307.8 857.3 L311 861.5 L307.1 862Z" fill="#939598"/>
<path d="M321.7 865.4 L324.5 865.9 L324 867.3 L321.9 866.8Z" fill="#939598"/>
<path d="M329.1 868 L333.3 868.9 L332.4 870.3 L329.3 869.4Z" fill="#939598"/>
<path d="M333.3 869.8 L337.2 869.4 L339.5 872.2 L335.6 873.1Z" fill="#939598"/>
<path d="M344.2 880.7 L351.1 882.6 L358.8 891.9 L352.3 895.4 L345.3 899.5 L343 897.7 L341.9 888.4Z" fill="#939598"/>
<ellipse cx="50.9" cy="359.8" rx="2.2" ry="1.1" transform="rotate(25 50.9 359.8)" fill="#d8d9da"/>
</g>
</g>
<g id="rules">
<path d="M1102.5 438H1569.4M1102.5 504.8H1569.4M1102.5 571H1569.4" stroke="#fff" stroke-width="3.4" fill="none"/>
<path d="M162 1103.3H525.7M566.3 1103.3H929.8M969 1103.3H1332.5M1372 1103.3H1734.5" stroke="#636466" stroke-width="1.6" fill="none"/>
<path d="M162 2301.2H1735.6" stroke="#636466" stroke-width="1.6" fill="none"/>
<path d="M0 2442.6H1971" stroke="#231f20" stroke-width="1.5" fill="none"/>
</g>
<g id="text" opacity="0.999">
<text id="t0" transform="translate(1103.2 350.4) scale(0.8209 1)" font-size="49.4" font-weight="bold" fill="#fff">MISSOURI</text>
<text id="t1" stroke="#fff" stroke-width="0.4" transform="translate(1104 409.5) scale(0.7037 1)" font-size="26.5" font-style="italic" fill="#fff">POPULATION:</text>
<text id="t2" transform="translate(1568 393.6) scale(0.9721 1)" font-size="32.5" font-weight="bold" text-anchor="end" fill="#fff">6.13</text>
<text id="t3" transform="translate(1568 432.2) scale(0.8522 1)" font-size="32.7" font-weight="bold" text-anchor="end" fill="#fff">MILLION</text>
<text id="t4" stroke="#fff" stroke-width="0.4" transform="translate(1104 480.8) scale(0.7063 1)" font-size="26.5" font-style="italic" fill="#fff">UNEMPLOYMENT RATE:</text>
<text id="t5" transform="translate(1568 484.6) scale(0.8996 1)" font-size="36.6" font-weight="bold" text-anchor="end" fill="#fff">3.3%</text>
<text id="t6" stroke="#fff" stroke-width="0.4" transform="translate(1104 546.8) scale(0.7298 1)" font-size="26.5" font-style="italic" fill="#fff">NUMBER OF CREDIT UNIONS:</text>
<text id="t7" transform="translate(1568 550.6) scale(0.9258 1)" font-size="36.6" font-weight="bold" text-anchor="end" fill="#fff">109</text>
<text id="t8" stroke="#fff" stroke-width="0.4" transform="translate(1104 613.5) scale(0.7374 1)" font-size="26.5" font-style="italic" fill="#fff">NUMBER OF BANKS:</text>
<text id="t9" transform="translate(1568 618.2) scale(0.9503 1)" font-size="36.6" font-weight="bold" text-anchor="end" fill="#fff">256</text>
<text id="t10" stroke="#111" stroke-width="0.4" transform="translate(1104 698.3) scale(0.7374 1)" font-size="38" fill="#111">STATE CU QUICK FACTS</text>
<text id="t11" stroke="#6d6e71" stroke-width="0.4" transform="translate(1104 732.4) scale(0.7253 1)" font-size="24" fill="#6d6e71">DATA AS OF 03.31.19</text>
<text id="t12" transform="translate(1104 773.5) scale(1.0232 1)" font-size="20.3" font-weight="bold" fill="#111">$12,106,032,699</text>
<text id="t13" stroke="#111" stroke-width="0.4" transform="translate(1103 805) scale(0.7651 1)" font-size="20.6" font-style="italic" fill="#111">TOTAL ASSETS</text>
<text id="t14" transform="translate(1104 844.2) scale(1.0232 1)" font-size="20.3" font-weight="bold" fill="#111">$10,492,635,029</text>
<text id="t15" stroke="#111" stroke-width="0.4" transform="translate(1103 875) scale(0.7805 1)" font-size="20.6" font-style="italic" fill="#111">TOTAL SHARES</text>
<text id="t16" transform="translate(1104 914.2) scale(1.0140 1)" font-size="20.3" font-weight="bold" fill="#111">1,326,149</text>
<text id="t17" stroke="#111" stroke-width="0.4" transform="translate(1103 945.4) scale(0.7991 1)" font-size="20.6" font-style="italic" fill="#111">TOTAL MEMBERS</text>
<text id="t18" transform="translate(1320 773.5) scale(1.0249 1)" font-size="20.3" font-weight="bold" fill="#111">$8,161,149,029</text>
<text id="t19" stroke="#111" stroke-width="0.4" transform="translate(1319 805) scale(0.7806 1)" font-size="20.6" font-style="italic" fill="#111">TOTAL LOANS</text>
<text id="t20" transform="translate(1320 849.5) scale(0.9493 1)" font-size="20.3" font-weight="bold" fill="#111">0.66%</text>
<text id="t21" stroke="#111" stroke-width="0.4" transform="translate(1319 880.9) scale(0.7947 1)" font-size="20.6" font-style="italic" fill="#111">AVERAGE DELINQUENCY</text>
<text id="t22" transform="translate(1320 920.5) scale(1.0249 1)" font-size="20.3" font-weight="bold" fill="#111">$1,281,959,301</text>
<text id="t23" stroke="#111" stroke-width="0.4" transform="translate(1319 951.5) scale(0.7656 1)" font-size="20.6" font-style="italic" fill="#111">TOTAL CAPITAL</text>
<text id="t24" transform="translate(1536.5 773.5) scale(1.0235 1)" font-size="20.3" font-weight="bold" fill="#111">$162,332,420</text>
<text id="t25" stroke="#111" stroke-width="0.4" transform="translate(1535.5 805) scale(0.7679 1)" font-size="20.6" font-style="italic" fill="#111">TOTAL YTD REVENUE</text>
<text id="t26" transform="translate(1536.5 849.5) scale(0.9476 1)" font-size="20.3" font-weight="bold" fill="#111">3.85%</text>
<text id="t27" stroke="#111" stroke-width="0.4" transform="translate(1535.5 880.9) scale(0.7869 1)" font-size="20.6" font-style="italic" fill="#111">AVERAGE OPERATING</text>
<text id="t28" stroke="#111" stroke-width="0.4" transform="translate(1535.5 910) scale(0.7937 1)" font-size="20.6" font-style="italic" fill="#111">EXPENSE RATIO</text>
<text id="t29" stroke="#111" stroke-width="0.7" transform="translate(177 1095) scale(0.8573 1)" font-size="48.5" fill="#111">Loans</text>
<text stroke="#111" stroke-width="0.7" transform="translate(178 1095) scale(0.8573 1)" font-size="48.5" fill="#111">Loans</text>
<text id="t30" stroke="#111" stroke-width="0.7" transform="translate(581 1095) scale(0.8590 1)" font-size="48.5" fill="#111">Shares</text>
<text stroke="#111" stroke-width="0.7" transform="translate(582 1095) scale(0.8590 1)" font-size="48.5" fill="#111">Shares</text>
<text id="t31" stroke="#111" stroke-width="0.7" transform="translate(984 1095) scale(0.8856 1)" font-size="48.5" fill="#111">Members</text>
<text stroke="#111" stroke-width="0.7" transform="translate(985 1095) scale(0.8856 1)" font-size="48.5" fill="#111">Members</text>
<text id="t32" stroke="#111" stroke-width="0.7" transform="translate(1387 1095) scale(0.8672 1)" font-size="48.5" fill="#111">Earnings</text>
<text stroke="#111" stroke-width="0.7" transform="translate(1388 1095) scale(0.8672 1)" font-size="48.5" fill="#111">Earnings</text>
<text id="t33" stroke="#0a0a0a" stroke-width="0.7" transform="translate(163.5 1188) scale(0.9123 1)" font-size="54.5" font-weight="bold" fill="#0a0a0a">50.6%</text>
<text id="t34" stroke="#6d6e71" stroke-width="0.4" transform="translate(162 1227.6) scale(0.7093 1)" font-size="29" fill="#6d6e71"><tspan font-weight="bold" fill="#55565a" stroke="#55565a">AUTO LOANS</tspan> COMPRISED HALF</text>
<text id="t35" stroke="#6d6e71" stroke-width="0.4" transform="translate(162 1266.85) scale(0.6802 1)" font-size="29" fill="#6d6e71">THE TOTAL LOAN PORTFOLIO FOR</text>
<text id="t36" stroke="#6d6e71" stroke-width="0.4" transform="translate(162 1306.1) scale(0.7081 1)" font-size="29" fill="#6d6e71">MISSOURI CREDIT UNIONS. THE</text>
<text id="t37" stroke="#6d6e71" stroke-width="0.4" transform="translate(162 1345.35) scale(0.7063 1)" font-size="29" fill="#6d6e71">STATE’S CREDIT UNIONS HELD</text>
<text id="t38" stroke="#6d6e71" stroke-width="0.4" transform="translate(162 1384.6) scale(0.7420 1)" font-size="29" fill="#6d6e71">$2.8 BILLION IN USED AUTO</text>
<text id="t39" stroke="#6d6e71" stroke-width="0.4" transform="translate(162 1423.85) scale(0.7473 1)" font-size="29" fill="#6d6e71">LOANS AND $1.3 BILLION IN NEW.</text>
<text id="t40" stroke="#0a0a0a" stroke-width="0.7" transform="translate(163.5 1535.65) scale(0.9123 1)" font-size="54.5" font-weight="bold" fill="#0a0a0a">0.66%</text>
<text id="t41" stroke="#6d6e71" stroke-width="0.4" transform="translate(162 1575.25) scale(0.7214 1)" font-size="29" fill="#6d6e71"><tspan font-weight="bold" fill="#55565a" stroke="#55565a">DELINQUENCY</tspan> AT MISSOURI</text>
<text id="t42" stroke="#6d6e71" stroke-width="0.4" transform="translate(162 1614.5) scale(0.7236 1)" font-size="29" fill="#6d6e71">CREDIT UNIONS IMPROVED 12</text>
<text id="t43" stroke="#6d6e71" stroke-width="0.4" transform="translate(162 1653.75) scale(0.6994 1)" font-size="29" fill="#6d6e71">BASIS POINTS QUARTER-OVER-</text>
<text id="t44" stroke="#6d6e71" stroke-width="0.4" transform="translate(162 1693) scale(0.7197 1)" font-size="29" fill="#6d6e71">QUARTER AND FELL TO 0.66% AS</text>
<text id="t45" stroke="#6d6e71" stroke-width="0.4" transform="translate(162 1732.25) scale(0.7347 1)" font-size="29" fill="#6d6e71">OF MARCH 2019. NET CHARGE-</text>
<text id="t46" stroke="#6d6e71" stroke-width="0.4" transform="translate(162 1771.5) scale(0.6923 1)" font-size="29" fill="#6d6e71">OFFS ALSO IMPROVED OVER THE</text>
<text id="t47" stroke="#6d6e71" stroke-width="0.4" transform="translate(162 1810.75) scale(0.7116 1)" font-size="29" fill="#6d6e71">QUARTER, DROPPING 6 BASIS</text>
<text id="t48" stroke="#6d6e71" stroke-width="0.4" transform="translate(162 1850) scale(0.7394 1)" font-size="29" fill="#6d6e71">POINTS SINCE DECEMBER 2018.</text>
<text id="t49" stroke="#0a0a0a" stroke-width="0.7" transform="translate(163.5 1961.8) scale(0.9748 1)" font-size="54.5" font-weight="bold" fill="#0a0a0a">$5,924</text>
<text id="t50" stroke="#6d6e71" stroke-width="0.4" transform="translate(162 2001.4) scale(0.7146 1)" font-size="29" fill="#6d6e71">MISSOURI’S <tspan font-weight="bold" fill="#55565a" stroke="#55565a">AVERAGE LOAN</tspan></text>
<text id="t51" stroke="#6d6e71" stroke-width="0.4" transform="translate(162 2040.65) scale(0.7403 1)" font-size="29" fill="#6d6e71"><tspan font-weight="bold" fill="#55565a" stroke="#55565a">BALANCE</tspan> INCREASED $340</text>
<text id="t52" stroke="#6d6e71" stroke-width="0.4" transform="translate(162 2079.9) scale(0.6624 1)" font-size="29" fill="#6d6e71">YEAR-OVER-YEAR TO TOTAL</text>
<text id="t53" stroke="#6d6e71" stroke-width="0.4" transform="translate(162 2119.15) scale(0.7924 1)" font-size="29" fill="#6d6e71">$5,924 AS OF MARCH 2019.</text>
<text id="t54" stroke="#0a0a0a" stroke-width="0.7" transform="translate(567.5 1188) scale(0.9156 1)" font-size="54.5" font-weight="bold" fill="#0a0a0a">50.9%</text>
<text id="t55" stroke="#6d6e71" stroke-width="0.4" transform="translate(566 1227.6) scale(0.7195 1)" font-size="29" fill="#6d6e71">MISSOURI CREDIT UNIONS</text>
<text id="t56" stroke="#6d6e71" stroke-width="0.4" transform="translate(566 1266.85) scale(0.6993 1)" font-size="29" fill="#6d6e71">REPORTED AN AVERAGE <tspan font-weight="bold" fill="#55565a" stroke="#55565a">SHARE</tspan></text>
<text id="t57" stroke="#6d6e71" stroke-width="0.4" transform="translate(566 1306.1) scale(0.7323 1)" font-size="29" fill="#6d6e71"><tspan font-weight="bold" fill="#55565a" stroke="#55565a">DRAFT PENETRATION</tspan> OF 50.9%,</text>
<text id="t58" stroke="#6d6e71" stroke-width="0.4" transform="translate(566 1345.35) scale(0.7309 1)" font-size="29" fill="#6d6e71">A 64 BASIS POINT INCREASE</text>
<text id="t59" stroke="#6d6e71" stroke-width="0.4" transform="translate(566 1384.6) scale(0.7434 1)" font-size="29" fill="#6d6e71">FROM MARCH 2018 WHEN</text>
<text id="t60" stroke="#6d6e71" stroke-width="0.4" transform="translate(566 1423.85) scale(0.6896 1)" font-size="29" fill="#6d6e71">SHARE DRAFT PENETRATION FOR</text>
<text id="t61" stroke="#6d6e71" stroke-width="0.4" transform="translate(566 1463.1) scale(0.7267 1)" font-size="29" fill="#6d6e71">THE INDUSTRY WAS 58.3%.</text>
<text id="t62" stroke="#0a0a0a" stroke-width="0.7" transform="translate(567.5 1574.9) scale(0.9156 1)" font-size="54.5" font-weight="bold" fill="#0a0a0a">76.7%</text>
<text id="t63" stroke="#6d6e71" stroke-width="0.4" transform="translate(566 1614.5) scale(0.7236 1)" font-size="29" fill="#6d6e71"><tspan font-weight="bold" fill="#55565a" stroke="#55565a">CORE DEPOSITS</tspan> – SHARE DRAFTS,</text>
<text id="t64" stroke="#6d6e71" stroke-width="0.4" transform="translate(566 1653.75) scale(0.7064 1)" font-size="29" fill="#6d6e71">REGULAR SHARES, AND MONEY</text>
<text id="t65" stroke="#6d6e71" stroke-width="0.4" transform="translate(566 1693) scale(0.7155 1)" font-size="29" fill="#6d6e71">MARKET ACCOUNTS – COMPRISED</text>
<text id="t66" stroke="#6d6e71" stroke-width="0.4" transform="translate(566 1732.25) scale(0.7085 1)" font-size="29" fill="#6d6e71">76.7% OF THE DEPOSIT PORTFOLIO</text>
<text id="t67" stroke="#6d6e71" stroke-width="0.4" transform="translate(566 1771.5) scale(0.7152 1)" font-size="29" fill="#6d6e71">FOR MISSOURI CREDIT UNIONS.</text>
<text id="t68" stroke="#0a0a0a" stroke-width="0.7" transform="translate(567.5 1883.3) scale(0.9338 1)" font-size="54.5" font-weight="bold" fill="#0a0a0a">11.8%</text>
<text id="t69" stroke="#6d6e71" stroke-width="0.4" transform="translate(566 1922.9) scale(0.7195 1)" font-size="29" fill="#6d6e71">MISSOURI CREDIT UNIONS</text>
<text id="t70" stroke="#6d6e71" stroke-width="0.4" transform="translate(566 1962.15) scale(0.6886 1)" font-size="29" fill="#6d6e71">FOLLOWED THE INDUSTRY’S</text>
<text id="t71" stroke="#6d6e71" stroke-width="0.4" transform="translate(566 2001.4) scale(0.7068 1)" font-size="29" fill="#6d6e71">STRONG <tspan font-weight="bold" fill="#55565a" stroke="#55565a">SHARE CERTIFICATE</tspan></text>
<text id="t72" stroke="#6d6e71" stroke-width="0.4" transform="translate(566 2040.65) scale(0.7487 1)" font-size="29" fill="#6d6e71"><tspan font-weight="bold" fill="#55565a" stroke="#55565a">GROWTH</tspan> AT 11.8% IN</text>
<text id="t73" stroke="#6d6e71" stroke-width="0.4" transform="translate(566 2079.9) scale(0.6811 1)" font-size="29" fill="#6d6e71">THE FIRST QUARTER OF</text>
<text id="t74" stroke="#6d6e71" stroke-width="0.4" transform="translate(566 2119.15) scale(0.7235 1)" font-size="29" fill="#6d6e71">2019. THE INDUSTRYWIDE</text>
<text id="t75" stroke="#6d6e71" stroke-width="0.4" transform="translate(566 2158.4) scale(0.7297 1)" font-size="29" fill="#6d6e71">AVERAGE WAS 18.0%.</text>
<text id="t76" stroke="#0a0a0a" stroke-width="0.7" transform="translate(970.5 1188) scale(0.8975 1)" font-size="54.5" font-weight="bold" fill="#0a0a0a">1.9%</text>
<text id="t77" stroke="#6d6e71" stroke-width="0.4" transform="translate(969 1227.6) scale(0.7525 1)" font-size="29" fill="#6d6e71"><tspan font-weight="bold" fill="#55565a" stroke="#55565a">MEMBERSHIP</tspan> IN MISSOURI</text>
<text id="t78" stroke="#6d6e71" stroke-width="0.4" transform="translate(969 1266.85) scale(0.7080 1)" font-size="29" fill="#6d6e71">CREDIT UNIONS INCREASED</text>
<text id="t79" stroke="#6d6e71" stroke-width="0.4" transform="translate(969 1306.1) scale(0.7017 1)" font-size="29" fill="#6d6e71">1.9% YEAR-OVER-YEAR. MORE</text>
<text id="t80" stroke="#6d6e71" stroke-width="0.4" transform="translate(969 1345.35) scale(0.7412 1)" font-size="29" fill="#6d6e71">THAN 4,400 MEMBERS JOINED</text>
<text id="t81" stroke="#6d6e71" stroke-width="0.4" transform="translate(969 1384.6) scale(0.6918 1)" font-size="29" fill="#6d6e71">IN THE FIRST THREE MONTHS OF</text>
<text id="t82" stroke="#6d6e71" stroke-width="0.4" transform="translate(969 1423.85) scale(0.7393 1)" font-size="29" fill="#6d6e71">2019, PUSHING CREDIT UNION</text>
<text id="t83" stroke="#6d6e71" stroke-width="0.4" transform="translate(969 1463.1) scale(0.7224 1)" font-size="29" fill="#6d6e71">MEMBERSHIP IN MISSOURI TO</text>
<text id="t84" stroke="#6d6e71" stroke-width="0.4" transform="translate(969 1502.35) scale(0.7367 1)" font-size="29" fill="#6d6e71">MORE THAN 1.3 MILLION.</text>
<text id="t85" stroke="#0a0a0a" stroke-width="0.7" transform="translate(970.5 1614.15) scale(0.9669 1)" font-size="54.5" font-weight="bold" fill="#0a0a0a">$13,787</text>
<text id="t86" stroke="#6d6e71" stroke-width="0.4" transform="translate(969 1653.75) scale(0.7192 1)" font-size="29" fill="#6d6e71">THE <tspan font-weight="bold" fill="#55565a" stroke="#55565a">AVERAGE MEMBER</tspan></text>
<text id="t87" stroke="#6d6e71" stroke-width="0.4" transform="translate(969 1693) scale(0.7226 1)" font-size="29" fill="#6d6e71"><tspan font-weight="bold" fill="#55565a" stroke="#55565a">RELATIONSHIP</tspan> AT MISSOURI</text>
<text id="t88" stroke="#6d6e71" stroke-width="0.4" transform="translate(969 1732.25) scale(0.7080 1)" font-size="29" fill="#6d6e71">CREDIT UNIONS INCREASED</text>
<text id="t89" stroke="#6d6e71" stroke-width="0.4" transform="translate(969 1771.5) scale(0.7153 1)" font-size="29" fill="#6d6e71">$439 YEAR-OVER-YEAR, ENDING</text>
<text id="t90" stroke="#6d6e71" stroke-width="0.4" transform="translate(969 1810.75) scale(0.7834 1)" font-size="29" fill="#6d6e71">AT $13,787 AS OF MARCH 2019.</text>
<text id="t91" stroke="#6d6e71" stroke-width="0.4" transform="translate(969 1850) scale(0.7020 1)" font-size="29" fill="#6d6e71">THE AVERAGE LOAN AND SHARE</text>
<text id="t92" stroke="#6d6e71" stroke-width="0.4" transform="translate(969 1889.25) scale(0.6896 1)" font-size="29" fill="#6d6e71">BALANCES FOR THE STATE’S</text>
<text id="t93" stroke="#6d6e71" stroke-width="0.4" transform="translate(969 1928.5) scale(0.7375 1)" font-size="29" fill="#6d6e71">CREDIT UNIONS WERE $5,924</text>
<text id="t94" stroke="#6d6e71" stroke-width="0.4" transform="translate(969 1967.75) scale(0.7300 1)" font-size="29" fill="#6d6e71">AND $7,863, RESPECTIVELY.</text>
<text id="t95" stroke="#0a0a0a" stroke-width="0.7" transform="translate(970.5 2079.55) scale(0.9626 1)" font-size="54.5" font-weight="bold" fill="#0a0a0a">$15.9M</text>
<text id="t96" stroke="#6d6e71" stroke-width="0.4" transform="translate(969 2119.15) scale(0.7187 1)" font-size="29" fill="#6d6e71">MISSOURI CREDIT UNIONS</text>
<text id="t97" stroke="#6d6e71" stroke-width="0.4" transform="translate(969 2158.4) scale(0.7472 1)" font-size="29" fill="#6d6e71">GAVE $15.9 MILLION BACK</text>
<text id="t98" stroke="#6d6e71" stroke-width="0.4" transform="translate(969 2197.65) scale(0.7083 1)" font-size="29" fill="#6d6e71">TO MEMBERS IN THE FORM OF</text>
<text id="t99" stroke="#6d6e71" stroke-width="0.4" transform="translate(969 2236.9) scale(0.7205 1)" font-size="29" fill="#6d6e71"><tspan font-weight="bold" fill="#55565a" stroke="#55565a">DIVIDENDS</tspan> ON SHARES, IN THE</text>
<text id="t100" stroke="#6d6e71" stroke-width="0.4" transform="translate(969 2276.15) scale(0.7208 1)" font-size="29" fill="#6d6e71">FIRST THREE MONTHS OF 2019.</text>
<text id="t101" stroke="#0a0a0a" stroke-width="0.7" transform="translate(1373.5 1188) scale(0.8975 1)" font-size="54.5" font-weight="bold" fill="#0a0a0a">7.8%</text>
<text id="t102" stroke="#6d6e71" stroke-width="0.4" transform="translate(1372 1227.6) scale(0.7260 1)" font-size="29" fill="#6d6e71"><tspan font-weight="bold" fill="#55565a" stroke="#55565a">INCOME GROWTH</tspan> FOR MISSOURI</text>
<text id="t103" stroke="#6d6e71" stroke-width="0.4" transform="translate(1372 1266.85) scale(0.7223 1)" font-size="29" fill="#6d6e71">CREDIT UNIONS REACHED 7.8%</text>
<text id="t104" stroke="#6d6e71" stroke-width="0.4" transform="translate(1372 1306.1) scale(0.7186 1)" font-size="29" fill="#6d6e71">IN THE FIRST QUARTER OF 2019.</text>
<text id="t105" stroke="#6d6e71" stroke-width="0.4" transform="translate(1372 1345.35) scale(0.6944 1)" font-size="29" fill="#6d6e71">INTEREST ON LOANS ACCOUNTED</text>
<text id="t106" stroke="#6d6e71" stroke-width="0.4" transform="translate(1372 1384.6) scale(0.7218 1)" font-size="29" fill="#6d6e71">FOR 60.5% OF TOTAL INCOME.</text>
<text id="t107" stroke="#0a0a0a" stroke-width="0.7" transform="translate(1373.5 1496.4) scale(0.9156 1)" font-size="54.5" font-weight="bold" fill="#0a0a0a">2.18%</text>
<text id="t108" stroke="#6d6e71" stroke-width="0.4" transform="translate(1372 1536) scale(0.6949 1)" font-size="29" fill="#6d6e71">THE FIRST QUARTER <tspan font-weight="bold" fill="#55565a" stroke="#55565a">YIELD ON</tspan></text>
<text id="t109" stroke="#6d6e71" stroke-width="0.4" transform="translate(1372 1575.25) scale(0.7220 1)" font-size="29" fill="#6d6e71"><tspan font-weight="bold" fill="#55565a" stroke="#55565a">INVESTMENTS</tspan> FOR MISSOURI</text>
<text id="t110" stroke="#6d6e71" stroke-width="0.4" transform="translate(1372 1614.5) scale(0.7327 1)" font-size="29" fill="#6d6e71">CREDIT UNIONS WAS 52 BASIS</text>
<text id="t111" stroke="#6d6e71" stroke-width="0.4" transform="translate(1372 1653.75) scale(0.6933 1)" font-size="29" fill="#6d6e71">POINTS HIGHER THAN ONE YEAR</text>
<text id="t112" stroke="#6d6e71" stroke-width="0.4" transform="translate(1372 1693) scale(0.7101 1)" font-size="29" fill="#6d6e71">AGO, TO 2.18%. SIMILARLY, YIELD</text>
<text id="t113" stroke="#6d6e71" stroke-width="0.4" transform="translate(1372 1732.25) scale(0.7008 1)" font-size="29" fill="#6d6e71">ON INVESTMENTS NATIONALLY</text>
<text id="t114" stroke="#6d6e71" stroke-width="0.4" transform="translate(1372 1771.5) scale(0.7293 1)" font-size="29" fill="#6d6e71">INCREASED 56 BASIS POINTS</text>
<text id="t115" stroke="#6d6e71" stroke-width="0.4" transform="translate(1372 1810.75) scale(0.7063 1)" font-size="29" fill="#6d6e71">YEAR-OVER-YEAR TO 2.35%.</text>
<text id="t116" stroke="#0a0a0a" stroke-width="0.7" transform="translate(1373.5 1922.55) scale(0.9156 1)" font-size="54.5" font-weight="bold" fill="#0a0a0a">0.71%</text>
<text id="t117" stroke="#6d6e71" stroke-width="0.4" transform="translate(1372 1962.15) scale(0.7232 1)" font-size="29" fill="#6d6e71">CREDIT UNIONS IN MISSOURI</text>
<text id="t118" stroke="#6d6e71" stroke-width="0.4" transform="translate(1372 2001.4) scale(0.6878 1)" font-size="29" fill="#6d6e71">REPORTED A FIRST QUARTER <tspan font-weight="bold" fill="#55565a" stroke="#55565a">ROA</tspan></text>
<text id="t119" stroke="#6d6e71" stroke-width="0.4" transform="translate(1372 2040.65) scale(0.7417 1)" font-size="29" fill="#6d6e71">OF 0.71%, AN INCREASE OF 7</text>
<text id="t120" stroke="#6d6e71" stroke-width="0.4" transform="translate(1372 2079.9) scale(0.6934 1)" font-size="29" fill="#6d6e71">BASIS POINTS YEAR-OVER-YEAR.</text>
<text id="t121" stroke="#0a0a0a" stroke-width="0.7" transform="translate(176 2293.1) scale(0.8733 1)" font-size="49" fill="#0a0a0a">The Bottom Line</text>
<text stroke="#0a0a0a" stroke-width="0.7" transform="translate(177 2293.1) scale(0.8733 1)" font-size="49" fill="#0a0a0a">The Bottom Line</text>
<text id="t122" stroke="#231f20" stroke-width="0.4" transform="translate(163 2345) scale(0.7900 1)" font-size="28.8" word-spacing="2.475" fill="#231f20">Missouri credit unions reported year-over-year growth in deposits and loans of 3.1% and 7.2%, respectively. In addition to reporting impressive auto loan</text>
<text id="t123" stroke="#231f20" stroke-width="0.4" transform="translate(163 2380.7) scale(0.7900 1)" font-size="28.8" word-spacing="0.490" fill="#231f20">penetration at 22.9%, credit unions in Missouri reported notable improvements in auto asset quality, with total auto loan delinquency decreasing from 0.73%</text>
<text id="t124" stroke="#231f20" stroke-width="0.4" transform="translate(163 2416.3) scale(0.8511 1)" font-size="28.8" fill="#231f20">in 2018 to 0.64% in 2019.</text>
<text id="t125" stroke="#231f20" stroke-width="0.4" transform="translate(1732.7 2434) scale(0.6650 1)" font-size="21.8" text-anchor="end" fill="#231f20">SOURCE: CALLAHAN &amp; ASSOCIATES  DATA AS OF 03.31.19</text>
<text id="t126" stroke="#111" stroke-width="0.5" transform="translate(192 2492.2) scale(0.8539 1)" font-size="25.7" font-weight="bold" fill="#111">[ 6 ]</text>
<text id="t127" stroke="#111" stroke-width="0.5" transform="translate(1060.7 2491.2) scale(0.9794 1)" font-size="23.5" font-weight="bold" fill="#111">1Q 2019</text>
<text id="t128" stroke="#111" stroke-width="0.5" transform="translate(1158.6 2490.2) scale(1.0000 1)" font-size="22" fill="#111">|</text>
<text stroke="#111" stroke-width="0.5" transform="translate(1159 2490.2) scale(1.0000 1)" font-size="22" fill="#111">|</text>
<text id="t129" stroke="#111" stroke-width="0.5" transform="translate(1735.4 2491.2) scale(0.8475 1)" font-size="23.5" text-anchor="end" fill="#111">CALLAHAN’S CREDIT UNION STRATEGY &amp; PERFORMANCE</text>
<text stroke="#111" stroke-width="0.5" transform="translate(1735.8 2491.2) scale(0.8475 1)" font-size="23.5" text-anchor="end" fill="#111">CALLAHAN’S CREDIT UNION STRATEGY &amp; PERFORMANCE</text>
</g>
</svg>
</body></html>
